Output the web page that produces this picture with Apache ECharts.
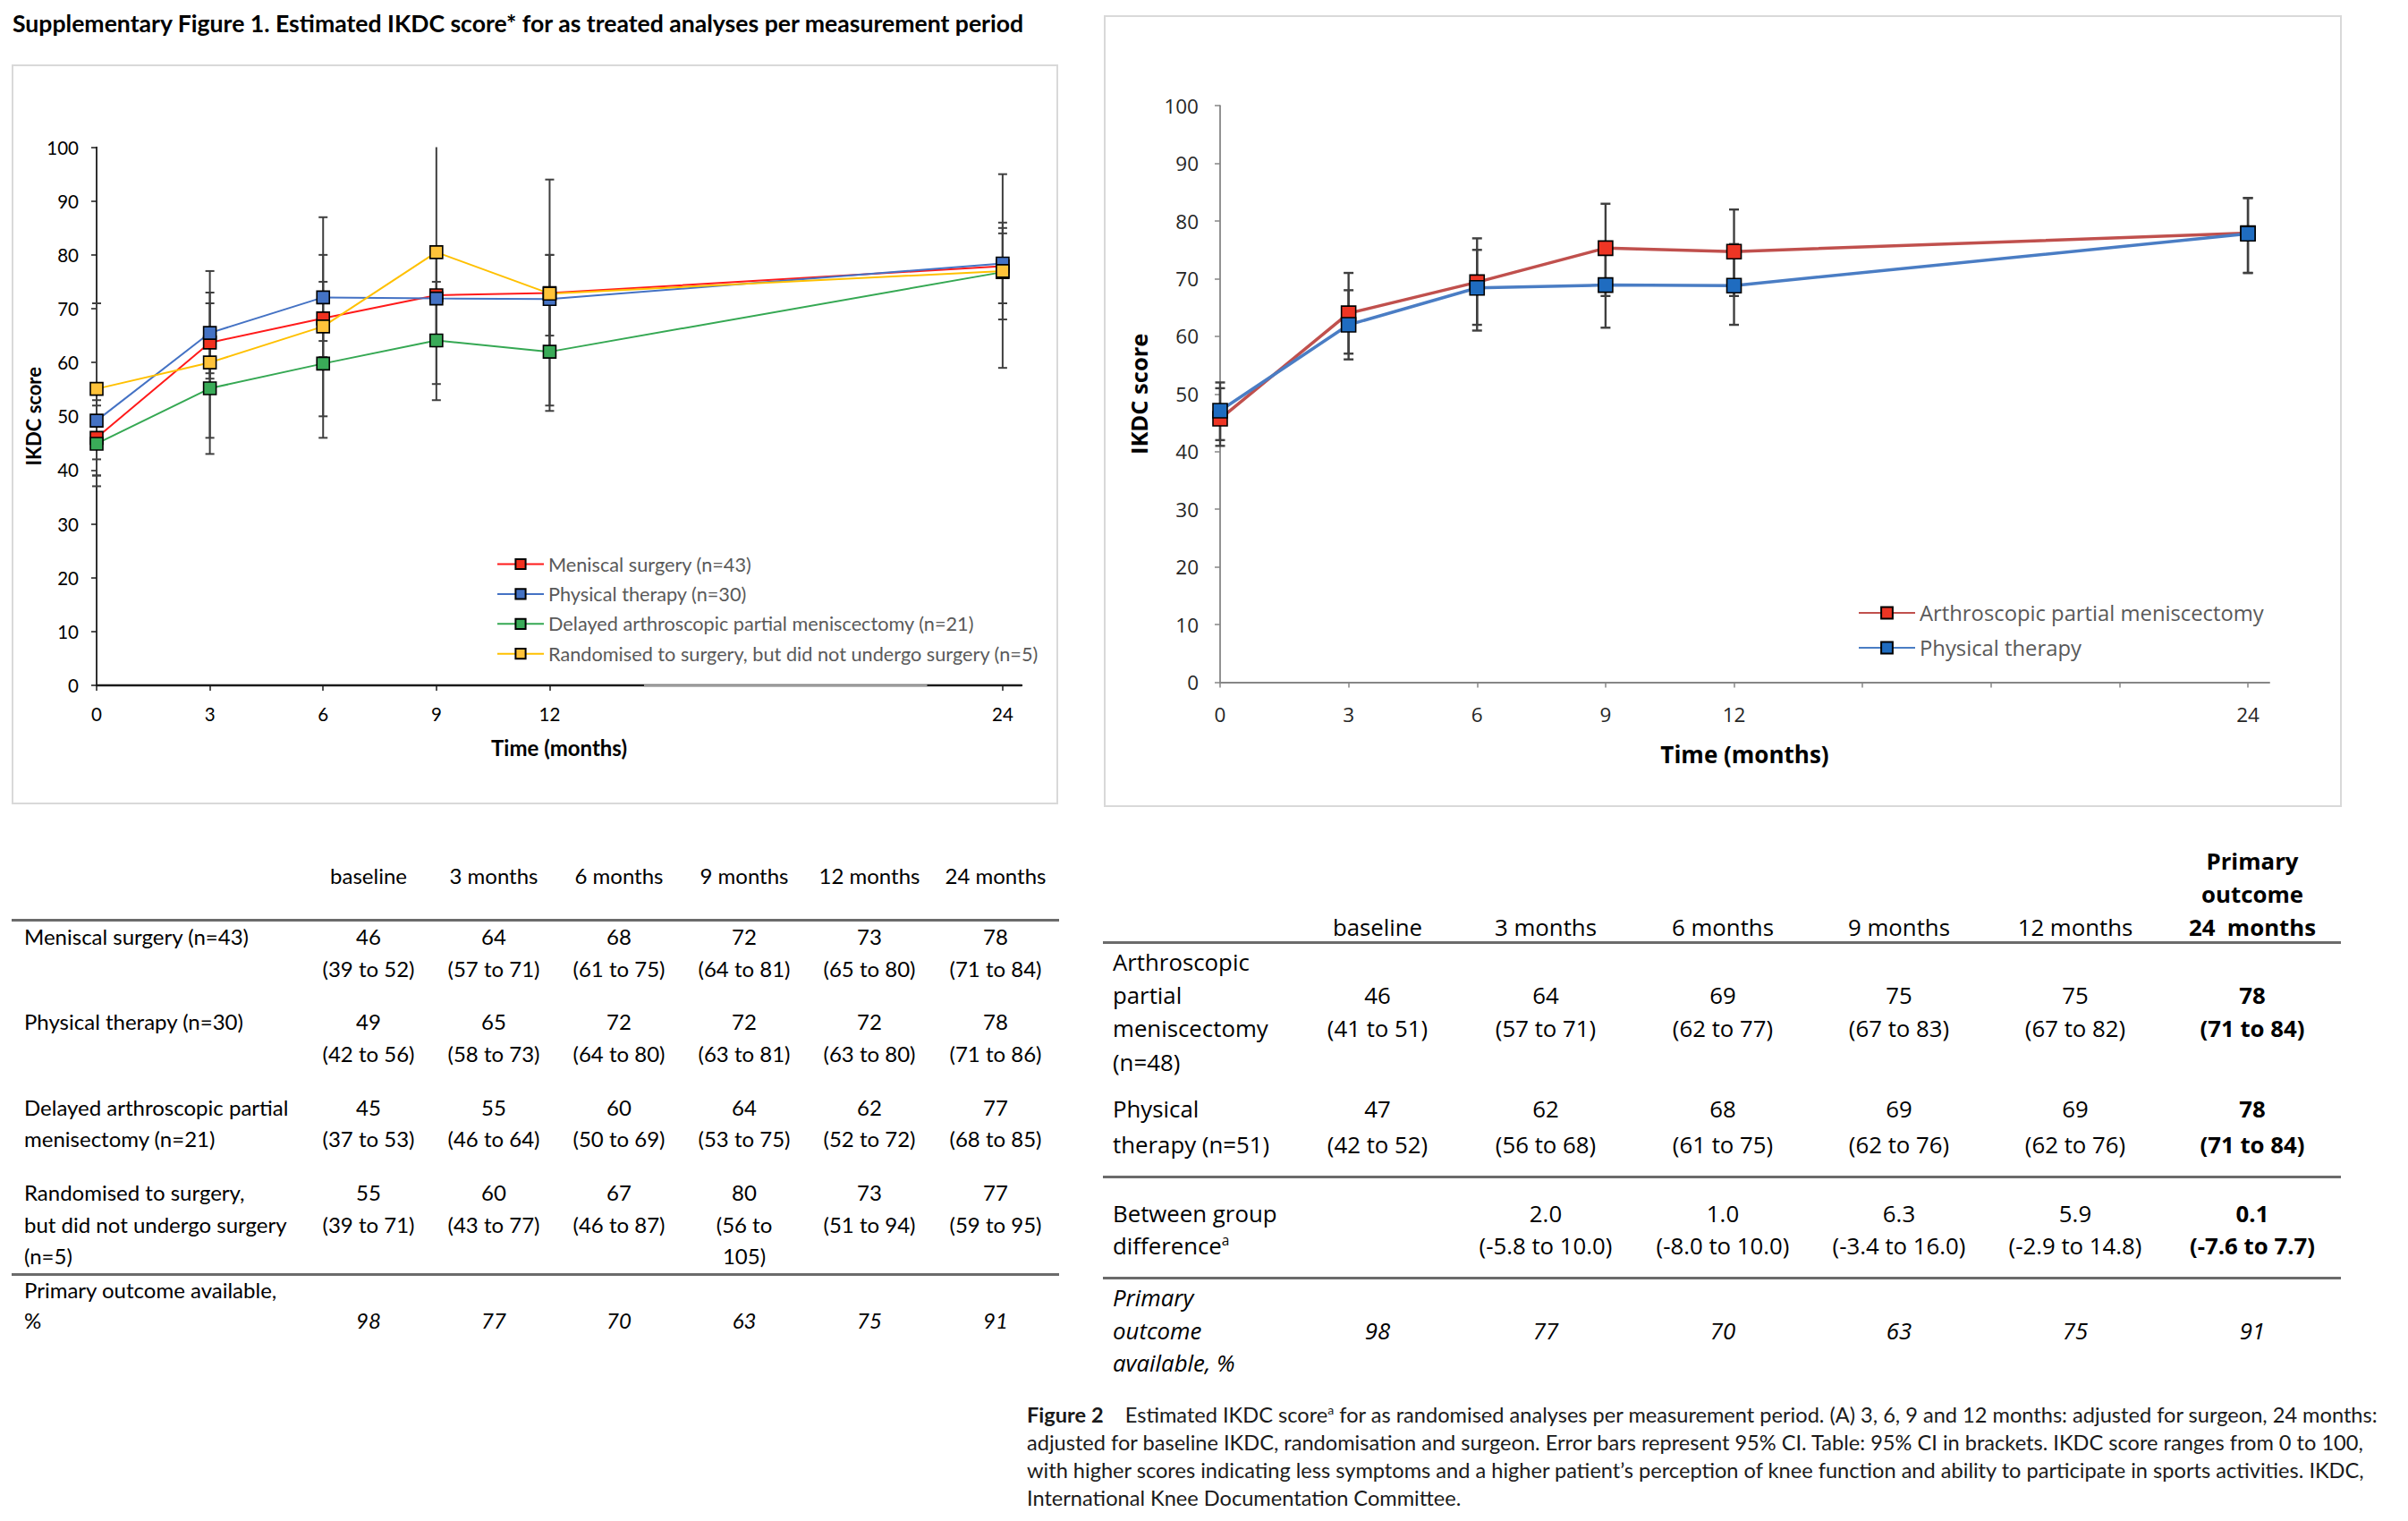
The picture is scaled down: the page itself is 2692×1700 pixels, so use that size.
<!DOCTYPE html>
<html>
<head>
<meta charset="utf-8">
<script src="https://cdn.jsdelivr.net/npm/echarts@6/dist/echarts.min.js"></script>
<style>
  html, body { margin:0; padding:0; background:#fff; }
  #page { position:relative; width:2692px; height:1700px; overflow:hidden; background:#fff; }
  #chart { position:absolute; left:0; top:0; width:2692px; height:1700px; }
  .t { position:absolute; white-space:nowrap; color:#000; }
  .lt { font-family: Lato, "Noto Sans", sans-serif; font-size:24px; }
  .rt { font-family: "Open Sans", "Noto Sans", sans-serif; font-size:25.8px; }
  .hl { position:absolute; background:#6b6b6b; height:3px; }
  .frame { position:absolute; border:2px solid #d9d9d9; box-sizing:border-box; }
</style>
</head>
<body>
<div id="page">
  <div class="frame" style="left:13px;top:72px;width:1170px;height:827px;"></div>
  <div class="frame" style="left:1234px;top:17px;width:1384px;height:885px;"></div>
  <div id="chart"></div>
</div>
<script>
// ---------------- data ----------------
const months = [0, 3, 6, 9, 12, 24];
const xLabelValues = [0, 3, 6, 9, 12, 24];
const rightTickValues = [0, 3, 6, 9, 12, 15, 18, 21, 24];

// Supplementary Figure 1 (as treated)
const meniscal      = [46.0, 63.7, 68.2, 72.5, 72.9, 77.9];
const meniscalLo    = [39, 57, 61, 64, 65, 71];
const meniscalHi    = [52, 71, 75, 81, 80, 84];
const physio        = [49.2, 65.5, 72.1, 71.9, 71.8, 78.4];
const physioLo      = [42, 58, 64, 63, 63, 71];
const physioHi      = [56, 73, 80, 81, 80, 86];
const delayed       = [44.9, 55.2, 59.8, 64.1, 62.0, 76.8];
const delayedLo     = [37, 46, 50, 53, 52, 68];
const delayedHi     = [53, 64, 69, 75, 72, 85];
const notOperated   = [55.1, 60.0, 66.7, 80.5, 72.8, 77.0];
const notOperatedLo = [39, 43, 46, 56, 51, 59];
const notOperatedHi = [71, 77, 87, 105, 94, 95];

// Figure 2 (as randomised)
const apm     = [45.7, 64.0, 69.4, 75.3, 74.7, 77.9];
const apmLo   = [41, 57, 62, 67, 67, 71];
const apmHi   = [51, 71, 77, 83, 82, 84];
const ptRand   = [47.1, 62.0, 68.4, 68.9, 68.8, 77.8];
const ptRandLo = [42, 56, 61, 61.5, 62, 71];
const ptRandHi = [52, 68, 75, 76, 76, 84];

const leftNames = ['Meniscal surgery (n=43)', 'Physical therapy (n=30)',
  'Delayed arthroscopic partial meniscectomy (n=21)', 'Randomised to surgery, but did not undergo surgery (n=5)'];
const rightNames = ['Arthroscopic partial meniscectomy', 'Physical therapy'];

// tables
const leftHeaders = ['baseline', '3 months', '6 months', '9 months', '12 months', '24 months'];
const leftRowMeniscal = ['46', '64', '68', '72', '73', '78'];
const leftCIMeniscal  = ['(39 to 52)', '(57 to 71)', '(61 to 75)', '(64 to 81)', '(65 to 80)', '(71 to 84)'];
const leftRowPhysio   = ['49', '65', '72', '72', '72', '78'];
const leftCIPhysio    = ['(42 to 56)', '(58 to 73)', '(64 to 80)', '(63 to 81)', '(63 to 80)', '(71 to 86)'];
const leftRowDelayed  = ['45', '55', '60', '64', '62', '77'];
const leftCIDelayed   = ['(37 to 53)', '(46 to 64)', '(50 to 69)', '(53 to 75)', '(52 to 72)', '(68 to 85)'];
const leftRowNotOp    = ['55', '60', '67', '80', '73', '77'];
const leftCINotOp     = ['(39 to 71)', '(43 to 77)', '(46 to 87)', '(56 to', '(51 to 94)', '(59 to 95)'];
const leftAvail       = ['98', '77', '70', '63', '75', '91'];

const rightHeaders = ['baseline', '3 months', '6 months', '9 months', '12 months', '24  months'];
const rightRowApm  = ['46', '64', '69', '75', '75', '78'];
const rightCIApm   = ['(41 to 51)', '(57 to 71)', '(62 to 77)', '(67 to 83)', '(67 to 82)', '(71 to 84)'];
const rightRowPt   = ['47', '62', '68', '69', '69', '78'];
const rightCIPt    = ['(42 to 52)', '(56 to 68)', '(61 to 75)', '(62 to 76)', '(62 to 76)', '(71 to 84)'];
const rightDiff    = ['', '2.0', '1.0', '6.3', '5.9', '0.1'];
const rightCIDiff  = ['', '(-5.8 to 10.0)', '(-8.0 to 10.0)', '(-3.4 to 16.0)', '(-2.9 to 14.8)', '(-7.6 to 7.7)'];
const rightAvail   = ['98', '77', '70', '63', '75', '91'];

// ---------------- html text ----------------
const page = document.getElementById('page');
function put(cls, html, x, y, align, extra) {
  const d = document.createElement('div');
  d.className = 't ' + cls;
  d.innerHTML = html;
  const lh = 34;
  d.style.lineHeight = lh + 'px';
  d.style.top = (y - lh / 2) + 'px';
  if (align === 'center') { d.style.left = (x - 150) + 'px'; d.style.width = '300px'; d.style.textAlign = 'center'; }
  else { d.style.left = x + 'px'; }
  if (extra) Object.assign(d.style, extra);
  page.appendChild(d);
  return d;
}
function hline(x1, x2, y) {
  const d = document.createElement('div');
  d.className = 'hl';
  d.style.left = x1 + 'px'; d.style.width = (x2 - x1) + 'px'; d.style.top = (y - 1.5) + 'px';
  page.appendChild(d);
}
// title
put('lt', 'Supplementary Figure 1. Estimated IKDC score* for as treated analyses per measurement period', 14, 26, 'left', {fontWeight:'700', fontSize:'26.6px'});

// left table
const lCols = [412, 552, 692, 832, 972, 1113];
const lx = 27;
leftHeaders.forEach((h, i) => put('lt', h, lCols[i], 979, 'center'));
hline(13, 1184, 1028);
put('lt', 'Meniscal surgery (n=43)', lx, 1047);
leftRowMeniscal.forEach((v, i) => put('lt', v, lCols[i], 1047, 'center'));
leftCIMeniscal.forEach((v, i) => put('lt', v, lCols[i], 1083, 'center'));
put('lt', 'Physical therapy (n=30)', lx, 1142);
leftRowPhysio.forEach((v, i) => put('lt', v, lCols[i], 1142, 'center'));
leftCIPhysio.forEach((v, i) => put('lt', v, lCols[i], 1178, 'center'));
put('lt', 'Delayed arthroscopic partial', lx, 1238);
put('lt', 'menisectomy (n=21)', lx, 1273);
leftRowDelayed.forEach((v, i) => put('lt', v, lCols[i], 1238, 'center'));
leftCIDelayed.forEach((v, i) => put('lt', v, lCols[i], 1273, 'center'));
put('lt', 'Randomised to surgery,', lx, 1333);
put('lt', 'but did not undergo surgery', lx, 1369);
put('lt', '(n=5)', lx, 1404);
leftRowNotOp.forEach((v, i) => put('lt', v, lCols[i], 1333, 'center'));
leftCINotOp.forEach((v, i) => put('lt', v, lCols[i], 1369, 'center'));
put('lt', '105)', lCols[3], 1404, 'center');
hline(13, 1184, 1424);
put('lt', 'Primary outcome available,', lx, 1442);
put('lt', '%', lx, 1476);
leftAvail.forEach((v, i) => put('lt', v, lCols[i], 1476, 'center', {fontStyle:'italic'}));

// right table
const rCols = [1540, 1728, 1926, 2123, 2320, 2518];
const rx = 1244;
put('rt', 'Primary', rCols[5], 962, 'center', {fontWeight:'700'});
put('rt', 'outcome', rCols[5], 999, 'center', {fontWeight:'700'});
rightHeaders.forEach((h, i) => put('rt', h.replace('  ', '&nbsp; '), rCols[i], 1036, 'center', i === 5 ? {fontWeight:'700'} : null));
hline(1233, 2617, 1053);
put('rt', 'Arthroscopic', rx, 1075);
put('rt', 'partial', rx, 1112);
put('rt', 'meniscectomy', rx, 1149);
put('rt', '(n=48)', rx, 1187);
rightRowApm.forEach((v, i) => put('rt', v, rCols[i], 1112, 'center', i === 5 ? {fontWeight:'700'} : null));
rightCIApm.forEach((v, i) => put('rt', v, rCols[i], 1149, 'center', i === 5 ? {fontWeight:'700'} : null));
put('rt', 'Physical', rx, 1239);
put('rt', 'therapy (n=51)', rx, 1279);
rightRowPt.forEach((v, i) => put('rt', v, rCols[i], 1239, 'center', i === 5 ? {fontWeight:'700'} : null));
rightCIPt.forEach((v, i) => put('rt', v, rCols[i], 1279, 'center', i === 5 ? {fontWeight:'700'} : null));
hline(1233, 2617, 1315);
put('rt', 'Between group', rx, 1356);
put('rt', 'difference<sup style="font-size:60%;line-height:0">a</sup>', rx, 1392);
rightDiff.forEach((v, i) => { if (v) put('rt', v, rCols[i], 1356, 'center', i === 5 ? {fontWeight:'700'} : null); });
rightCIDiff.forEach((v, i) => { if (v) put('rt', v, rCols[i], 1392, 'center', i === 5 ? {fontWeight:'700'} : null); });
hline(1233, 2617, 1428);
put('rt', 'Primary', rx, 1450, 'left', {fontStyle:'italic'});
put('rt', 'outcome', rx, 1487, 'left', {fontStyle:'italic'});
put('rt', 'available, %', rx, 1523, 'left', {fontStyle:'italic'});
rightAvail.forEach((v, i) => put('rt', v, rCols[i], 1487, 'center', {fontStyle:'italic'}));

// caption
const capLines = [
  '<b>Figure 2</b>&nbsp;&nbsp;&nbsp; Estimated IKDC score<sup style="font-size:60%;line-height:0">a</sup> for as randomised analyses per measurement period. (A) 3, 6, 9 and 12 months: adjusted for surgeon, 24 months:',
  'adjusted for baseline IKDC, randomisation and surgeon. Error bars represent 95% CI. Table: 95% CI in brackets. IKDC score ranges from 0 to 100,',
  'with higher scores indicating less symptoms and a higher patient’s perception of knee function and ability to participate in sports activities. IKDC,',
  'International Knee Documentation Committee.'
];
const capY = [1581, 1612, 1643, 1674];
capLines.forEach((l, i) => put('lt', l, 1148, capY[i], 'left', {fontSize:'23.6px', color:'#1a1a1a'}));

// ---------------- chart ----------------
const chart = echarts.init(document.getElementById('chart'), null, {renderer: 'svg'});

function errData(lo, hi) { return months.map((m, i) => [m, lo[i], hi[i]]); }
function errSeries(name, lo, hi, xi, capHalf, lw) {
  return {
    type: 'custom', name: name + ' CI', xAxisIndex: xi, yAxisIndex: xi, z: 1, silent: true,
    data: errData(lo, hi),
    renderItem: function (params, api) {
      const x = api.value(0), l = api.value(1), h = api.value(2);
      const hc = Math.min(h, 100);
      const p1 = api.coord([x, hc]), p2 = api.coord([x, l]);
      const st = {stroke: '#3f3f3f', lineWidth: lw};
      const ch = [
        {type: 'line', shape: {x1: p1[0], y1: p1[1], x2: p2[0], y2: p2[1]}, style: st},
        {type: 'line', shape: {x1: p2[0] - capHalf, y1: p2[1], x2: p2[0] + capHalf, y2: p2[1]}, style: st}
      ];
      if (h <= 100) ch.push({type: 'line', shape: {x1: p1[0] - capHalf, y1: p1[1], x2: p1[0] + capHalf, y2: p1[1]}, style: st});
      return {type: 'group', children: ch};
    }
  };
}
function lineSeries(name, vals, xi, color, markerColor, lw, size) {
  return {
    type: 'line', name: name, xAxisIndex: xi, yAxisIndex: xi, z: 3,
    data: months.map((m, i) => [m, vals[i]]),
    symbol: 'rect', symbolSize: size, showAllSymbol: true,
    lineStyle: {color: color, width: lw},
    itemStyle: {color: markerColor, borderColor: '#000', borderWidth: 1.6},
    emphasis: {disabled: true}, animation: false
  };
}

const leftFont = 'Lato';
const rightFont = 'Open Sans';

const series = [
  errSeries('m', meniscalLo, meniscalHi, 0, 5, 2),
  errSeries('p', physioLo, physioHi, 0, 5, 2),
  errSeries('d', delayedLo, delayedHi, 0, 5, 2),
  errSeries('n', notOperatedLo, notOperatedHi, 0, 5, 2),
  errSeries('a2', apmLo, apmHi, 1, 5.5, 2.4),
  errSeries('p2', ptRandLo, ptRandHi, 1, 5.5, 2.4),
  Object.assign(lineSeries(leftNames[0], meniscal, 0, '#ff1a1a', '#f2311f', 2, 14), {
    markLine: {silent: true, symbol: 'none', label: {show: false}, animation: false,
      lineStyle: {color: '#a9a9a9', width: 2.6, type: 'solid'},
      data: [[{coord: [14.5, 0]}, {coord: [22, 0]}]]}
  }),
  lineSeries(leftNames[1], physio, 0, '#4472c4', '#4472c4', 2, 14),
  lineSeries(leftNames[2], delayed, 0, '#35a853', '#3aab58', 2, 14),
  lineSeries(leftNames[3], notOperated, 0, '#ffc000', '#ffc33a', 2, 14),
  lineSeries(rightNames[0], apm, 1, '#c0504d', '#ee3524', 3.5, 16),
  lineSeries(rightNames[1], ptRand, 1, '#4a7dc4', '#1f6cc0', 3.5, 16)
];

const option = {
  animation: false,
  backgroundColor: 'transparent',
  grid: [
    {left: 108, top: 164.6, width: 1034, height: 601.4, containLabel: false},
    {left: 1364, top: 118.2, width: 1173, height: 644.3, containLabel: false}
  ],
  xAxis: [
    {type: 'value', gridIndex: 0, min: 0, max: 24.5, interval: 3,
     name: 'Time (months)', nameLocation: 'middle', nameGap: 57,
     nameTextStyle: {fontFamily: leftFont, fontWeight: 'bold', fontSize: 24, color: '#000'},
     axisLine: {lineStyle: {color: '#1a1a1a', width: 2.4}},
     axisTick: {show: true, length: 6, lineStyle: {color: '#1a1a1a', width: 1.5}, customValues: xLabelValues},
     axisLabel: {fontFamily: leftFont, fontSize: 20.5, color: '#000', margin: 21, customValues: xLabelValues},
     splitLine: {show: false}},
    {type: 'value', gridIndex: 1, min: 0, max: 24.5, interval: 3,
     name: 'Time (months)', nameLocation: 'middle', nameGap: 67,
     nameTextStyle: {fontFamily: rightFont, fontWeight: 'bold', fontSize: 26, color: '#000'},
     axisLine: {lineStyle: {color: '#868686', width: 2}},
     axisTick: {show: true, length: 6, lineStyle: {color: '#868686', width: 1.5}, customValues: rightTickValues},
     axisLabel: {fontFamily: rightFont, fontSize: 22.5, color: '#262626', margin: 24, customValues: xLabelValues},
     splitLine: {show: false}}
  ],
  yAxis: [
    {type: 'value', gridIndex: 0, min: 0, max: 100, interval: 10,
     name: 'IKDC score', nameLocation: 'middle', nameGap: 55, nameRotate: 90,
     nameTextStyle: {fontFamily: leftFont, fontWeight: 'bold', fontSize: 22, color: '#000'},
     axisLine: {show: true, lineStyle: {color: '#1a1a1a', width: 1.8}},
     axisTick: {show: true, length: 6, lineStyle: {color: '#1a1a1a', width: 1.5}},
     axisLabel: {fontFamily: leftFont, fontSize: 20.5, color: '#000', margin: 20},
     splitLine: {show: false}},
    {type: 'value', gridIndex: 1, min: 0, max: 100, interval: 10,
     name: 'IKDC score', nameLocation: 'middle', nameGap: 78, nameRotate: 90,
     nameTextStyle: {fontFamily: rightFont, fontWeight: 'bold', fontSize: 25.5, color: '#000'},
     axisLine: {show: true, lineStyle: {color: '#868686', width: 1.8}},
     axisTick: {show: true, length: 6, lineStyle: {color: '#868686', width: 1.5}},
     axisLabel: {fontFamily: rightFont, fontSize: 22.5, color: '#262626', margin: 24},
     splitLine: {show: false}}
  ],
  legend: [
    {data: leftNames, orient: 'vertical', left: 550, top: 614.5, itemWidth: 52, itemHeight: 14, itemGap: 11.4,
     textStyle: {fontFamily: leftFont, fontSize: 21.7, color: '#595959', lineHeight: 21},
     selectedMode: false},
    {data: rightNames, orient: 'vertical', left: 2072, top: 668, itemWidth: 63, itemHeight: 16, itemGap: 15,
     textStyle: {fontFamily: rightFont, fontSize: 23.8, color: '#595959', lineHeight: 24},
     selectedMode: false}
  ],
  series: series
};
chart.setOption(option);
</script>
</body>
</html>
